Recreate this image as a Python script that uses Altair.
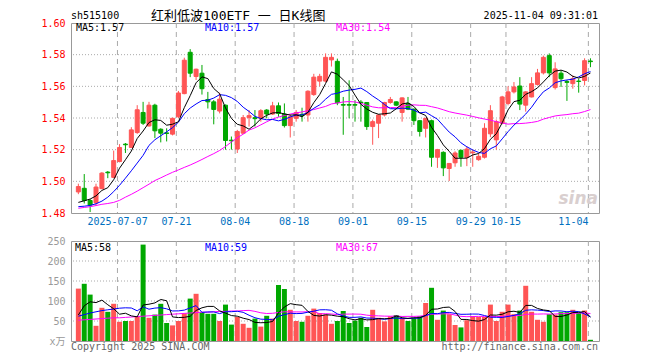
import altair as alt
import pandas as pd
import numpy as np

# ---------------- data ----------------
opens = [1.4933, 1.4956, 1.4879, 1.4864, 1.4954, 1.5058, 1.5025, 1.5125, 1.5235, 1.5214,
         1.5308, 1.5435, 1.5350, 1.5481, 1.5329, 1.5306, 1.5298, 1.5408, 1.5554, 1.5815,
         1.5662, 1.5683, 1.5517, 1.5502, 1.5444, 1.5481, 1.5260, 1.5204, 1.5304, 1.5402,
         1.5402, 1.5398, 1.5450, 1.5425, 1.5477, 1.5425, 1.5352, 1.5398, 1.5423, 1.5419,
         1.5548, 1.5633, 1.5633, 1.5767, 1.5758, 1.5485, 1.5485, 1.5485, 1.5500, 1.5498,
         1.5346, 1.5367, 1.5419, 1.5498, 1.5502, 1.5435, 1.5492, 1.5456, 1.5383, 1.5335,
         1.5383, 1.5152, 1.5183, 1.5081, 1.5117, 1.5196, 1.5152, 1.5180, 1.5137, 1.5152,
         1.5300, 1.5262, 1.5367, 1.5492, 1.5565, 1.5602, 1.5481, 1.5533, 1.5612, 1.5685,
         1.5794, 1.5592, 1.5683, 1.5630, 1.5617, 1.5633, 1.5637, 1.5760]
highs = [1.4985, 1.5046, 1.4888, 1.4985, 1.5058, 1.5065, 1.5194, 1.5235, 1.5242, 1.5342,
         1.5481, 1.5502, 1.5502, 1.5490, 1.5335, 1.5335, 1.5402, 1.5571, 1.5781, 1.5835,
         1.5712, 1.5735, 1.5565, 1.5513, 1.5560, 1.5485, 1.5283, 1.5325, 1.5419, 1.5450,
         1.5450, 1.5456, 1.5456, 1.5502, 1.5498, 1.5492, 1.5423, 1.5450, 1.5465, 1.5575,
         1.5679, 1.5679, 1.5808, 1.5808, 1.5775, 1.5533, 1.5638, 1.5513, 1.5513, 1.5500,
         1.5390, 1.5425, 1.5502, 1.5533, 1.5505, 1.5530, 1.5533, 1.5460, 1.5385, 1.5400,
         1.5390, 1.5205, 1.5190, 1.5115, 1.5190, 1.5200, 1.5221, 1.5200, 1.5175, 1.5367,
         1.5481, 1.5390, 1.5540, 1.5600, 1.5627, 1.5658, 1.5570, 1.5658, 1.5710, 1.5794,
         1.5808, 1.5752, 1.5700, 1.5640, 1.5669, 1.5648, 1.5777, 1.5777]
lows = [1.4919, 1.4860, 1.4806, 1.4846, 1.4950, 1.5020, 1.5022, 1.5120, 1.5179, 1.5210,
        1.5300, 1.5356, 1.5345, 1.5273, 1.5246, 1.5252, 1.5290, 1.5400, 1.5550, 1.5658,
        1.5640, 1.5548, 1.5460, 1.5360, 1.5429, 1.5200, 1.5200, 1.5179, 1.5300, 1.5346,
        1.5346, 1.5377, 1.5398, 1.5419, 1.5408, 1.5340, 1.5277, 1.5377, 1.5377, 1.5377,
        1.5540, 1.5600, 1.5625, 1.5725, 1.5481, 1.5294, 1.5398, 1.5377, 1.5377, 1.5325,
        1.5231, 1.5273, 1.5410, 1.5490, 1.5475, 1.5377, 1.5450, 1.5356, 1.5283, 1.5277,
        1.5092, 1.5085, 1.5033, 1.5002, 1.5092, 1.5092, 1.5096, 1.5092, 1.5130, 1.5144,
        1.5279, 1.5200, 1.5360, 1.5480, 1.5555, 1.5450, 1.5440, 1.5530, 1.5605, 1.5675,
        1.5658, 1.5580, 1.5596, 1.5508, 1.5585, 1.5560, 1.5606, 1.5721]
closes = [1.4967, 1.4879, 1.4850, 1.4964, 1.5052, 1.5054, 1.5131, 1.5214, 1.5231, 1.5325,
          1.5452, 1.5367, 1.5481, 1.5319, 1.5304, 1.5302, 1.5398, 1.5558, 1.5765, 1.5683,
          1.5708, 1.5585, 1.5502, 1.5454, 1.5519, 1.5258, 1.5256, 1.5315, 1.5402, 1.5415,
          1.5396, 1.5446, 1.5425, 1.5477, 1.5429, 1.5352, 1.5408, 1.5435, 1.5415, 1.5569,
          1.5658, 1.5663, 1.5783, 1.5783, 1.5496, 1.5481, 1.5481, 1.5481, 1.5495, 1.5346,
          1.5377, 1.5419, 1.5498, 1.5517, 1.5481, 1.5527, 1.5456, 1.5383, 1.5315, 1.5398,
          1.5152, 1.5200, 1.5085, 1.5113, 1.5179, 1.5152, 1.5204, 1.5185, 1.5158, 1.5335,
          1.5446, 1.5377, 1.5533, 1.5565, 1.5596, 1.5488, 1.5565, 1.5617, 1.5685, 1.5783,
          1.5685, 1.5710, 1.5648, 1.5625, 1.5648, 1.5631, 1.5762, 1.5756]
volumes = [131, 143, 116, 38, 83, 73, 93, 48, 50, 50,
           61, 241, 58, 66, 93, 45, 39, 50, 69, 106,
           118, 72, 68, 68, 50, 91, 41, 60, 43, 33,
           56, 36, 63, 56, 140, 130, 78, 50, 48, 63,
           81, 70, 66, 43, 50, 75, 45, 51, 58, 35,
           78, 58, 49, 62, 65, 57, 50, 57, 62, 95,
           133, 53, 76, 67, 40, 34, 52, 62, 60, 60,
           91, 50, 73, 91, 67, 76, 138, 73, 53, 48,
           67, 66, 72, 72, 78, 70, 76, 3]

# moving-average values at the left edge (they depend on days before the chart)
ma5_head = [1.4867, 1.4877, 1.4888, 1.4908]
ma10_head = [1.4840, 1.4843, 1.4848, 1.4858, 1.4875, 1.4900, 1.4935, 1.4975, 1.5020]
ma30_head = [1.4830, 1.4835, 1.4840, 1.4847, 1.4855, 1.4860, 1.4867, 1.4880, 1.4900, 1.4918,
             1.4938, 1.4960, 1.4982, 1.5005, 1.5022, 1.5040, 1.5057, 1.5072, 1.5088, 1.5103,
             1.5120, 1.5138, 1.5157, 1.5175, 1.5195, 1.5220, 1.5248, 1.5275, 1.5298]
vma5_head = [65, 88, 98, 96]
vma10_head = [62, 66, 70, 73, 76, 78, 80, 82, 83]
vma30_head = [52, 53, 54, 55, 56, 57, 58, 58, 59, 60, 61, 62, 63, 64, 65, 66, 67, 68, 69, 70,
              71, 72, 72, 73, 74, 74, 75, 75, 76]

tick_idx = [7, 17, 27, 37, 47, 57, 67, 73, 87]
tick_labels = ["2025-07-07", "07-21", "08-04", "08-18", "09-01", "09-15", "09-29", "10-15", "11-04"]
price_levels = [1.48, 1.50, 1.52, 1.54, 1.56, 1.58, 1.60]
vol_levels = [0, 50, 100, 150, 200, 250]

# ---------------- frame ----------------
n = len(closes)
df = pd.DataFrame({"i": np.arange(n), "open": opens, "high": highs, "low": lows,
                   "close": closes, "vol": volumes})
df["dir"] = np.where(df["close"] >= df["open"], "up", "down")


def ma(series, k, head):
    s = pd.Series(series, dtype=float).rolling(k).mean()
    s.iloc[:len(head)] = head
    return s.values


df["ma5"] = ma(closes, 5, ma5_head)
df["ma10"] = ma(closes, 10, ma10_head)
df["ma30"] = ma(closes, 30, ma30_head)
df["vma5"] = ma(volumes, 5, vma5_head)
df["vma10"] = ma(volumes, 10, vma10_head)
df["vma30"] = ma(volumes, 30, vma30_head)

ticks = pd.DataFrame({"i": tick_idx, "label": tick_labels})

RED = "#ff5555"
GREEN = "#00a800"
GRID = "#aaaaaa"
MONO = "DejaVu Sans Mono"
CJK = "DejaVu Sans Mono, Noto Sans CJK SC"
W, HP, HV = 528, 190, 100

xs = alt.Scale(domain=[-0.4, n - 0.4], nice=False, zero=False)
ps = alt.Scale(domain=[1.48, 1.60], nice=False, zero=False)
vs = alt.Scale(domain=[0, 250], nice=False)
X = alt.X("i:Q", scale=xs, axis=None)
dir_scale = alt.Scale(domain=["up", "down"], range=[RED, GREEN])
col = alt.Color("dir:N", scale=dir_scale, legend=None)

price_axis = alt.Axis(values=price_levels, format=".2f", title=None, grid=False, ticks=False,
                      tickSize=0, domain=False, labelColor="#ff0000", labelFont=MONO,
                      labelFontSize=10, labelPadding=6)
vol_axis = alt.Axis(values=vol_levels, title=None, grid=False, ticks=False, tickSize=0,
                    domain=False, labelColor="#999999", labelFont=CJK, labelFontSize=10,
                    labelPadding=6, labelExpr="datum.value == 0 ? 'x万' : datum.label")


def PY(field):
    return alt.Y(field, scale=ps, axis=price_axis)


def VY(field):
    return alt.Y(field, scale=vs, axis=vol_axis)


def label(t, x, y, color="black", size=10, align="left", font=MONO, **kw):
    return alt.Chart(pd.DataFrame({"t": [t]})).mark_text(
        x=x, y=y, align=align, baseline="middle", color=color, fontSize=size, font=font, **kw
    ).encode(text="t:N")


base = alt.Chart(df)

# ---------------- price panel ----------------
hgrid = alt.Chart(pd.DataFrame({"v": price_levels[1:-1]})).mark_rule(
    color=GRID, strokeDash=[1, 2], strokeWidth=1).encode(y=PY("v:Q"))
vgrid = alt.Chart(ticks).mark_rule(color=GRID, strokeDash=[5, 4], strokeWidth=1, xOffset=-2.1).encode(x=X)
dates_main = alt.Chart(ticks).transform_filter(f"datum.i < {n - 1}").mark_text(
    y=HP + 9, baseline="middle", align="center", color="#0070c0", font=MONO, fontSize=10, xOffset=-2
).encode(x=X, text="label:N")
dates_last = alt.Chart(ticks).transform_filter(f"datum.i >= {n - 1}").mark_text(
    y=HP + 9, baseline="middle", align="right", color="#0070c0", font=MONO, fontSize=10, xOffset=-2
).encode(x=X, text="label:N")

wicks = base.mark_rule(strokeWidth=1).encode(x=X, y=PY("low:Q"), y2="high:Q", color=col)
bodies = base.mark_bar(size=4, strokeWidth=1).encode(
    x=X, y=PY("open:Q"), y2="close:Q", fill=col,
    stroke=alt.Stroke("dir:N", scale=dir_scale, legend=None))
ma5_line = base.mark_line(color="black", strokeWidth=1).encode(x=X, y=PY("ma5:Q"))
ma10_line = base.mark_line(color="#0000ff", strokeWidth=1).encode(x=X, y=PY("ma10:Q"))
ma30_line = base.mark_line(color="#ff00ff", strokeWidth=1).encode(x=X, y=PY("ma30:Q"))

anchor = alt.Chart(pd.DataFrame({"a": [0]})).mark_rect(opacity=0).encode(
    x=alt.value(-62), x2=alt.value(0), y=alt.value(-14), y2=alt.value(0))

price = alt.layer(
    hgrid, anchor, vgrid, dates_main, dates_last, wicks, bodies, ma30_line, ma10_line, ma5_line,
    label("sh515100", 0, -7.5),
    label("红利低波100ETF 一 日K线图", 80, -7.5, size=13, font=CJK),
    label("2025-11-04 09:31:01", W - 1, -7.5, align="right"),
    label("MA5:1.57", 5, 5),
    label("MA10:1.57", 134, 5, color="#0000ff"),
    label("MA30:1.54", 265, 5, color="#ff00ff"),
    label("sina", W - 1, HP - 14, color="#d9cfcf", size=17, align="right",
          font="DejaVu Sans", fontStyle="italic", fontWeight="bold"),
).properties(width=W, height=HP)

# ---------------- volume panel ----------------
vhgrid = alt.Chart(pd.DataFrame({"v": vol_levels[1:-1]})).mark_rule(
    color=GRID, strokeDash=[1, 2], strokeWidth=1).encode(y=VY("v:Q"))
vvgrid = alt.Chart(ticks).mark_rule(color=GRID, strokeDash=[5, 4], strokeWidth=1, xOffset=-2.1).encode(x=X)
vbars = base.mark_bar(size=5).encode(x=X, y=VY("vol:Q"), color=col)
vma5_line = base.mark_line(color="black", strokeWidth=1).encode(x=X, y=VY("vma5:Q"))
vma10_line = base.mark_line(color="#0000ff", strokeWidth=1).encode(x=X, y=VY("vma10:Q"))
vma30_line = base.mark_line(color="#ff00ff", strokeWidth=1).encode(x=X, y=VY("vma30:Q"))

volume = alt.layer(
    vhgrid, vvgrid, vbars, vma30_line, vma10_line, vma5_line,
    label("MA5:58", 4, 6.5),
    label("MA10:59", 134, 6.5, color="#0000ff"),
    label("MA30:67", 265, 6.5, color="#ff00ff"),
    label("Copyright 2025 SINA.COM", 0, HV + 5.5, color="#666666"),
    label("http://finance.sina.com.cn", W - 1, HV + 5.5, color="#666666", align="right"),
).properties(width=W, height=HV)

chart = alt.vconcat(price, volume, spacing=28, bounds="flush").properties(
    padding=0, background="white"
).configure_view(stroke="#999999", strokeWidth=1)

chart.save("out.html", embed_options={"renderer": "svg", "actions": False})
